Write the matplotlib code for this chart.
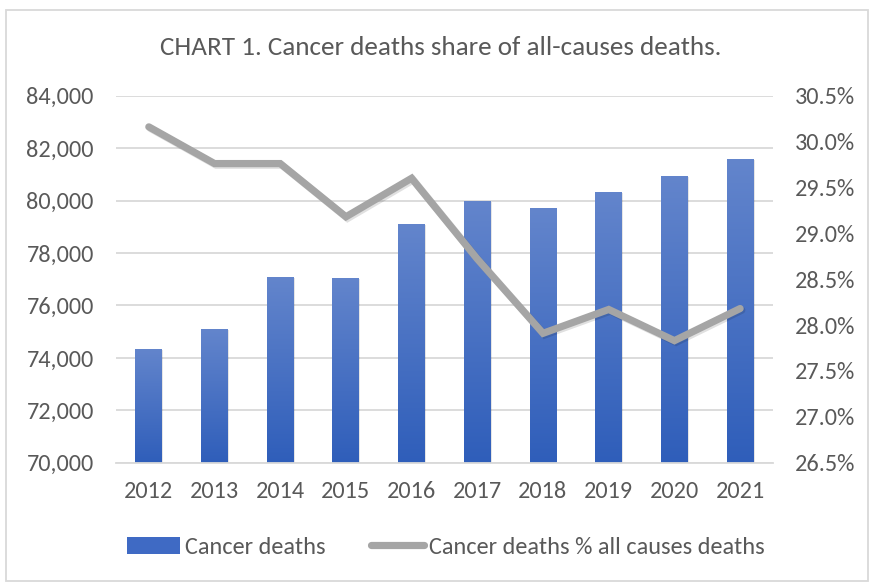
import numpy as np
import matplotlib
matplotlib.use("Agg")
import matplotlib.pyplot as plt
from matplotlib.colors import LinearSegmentedColormap
from matplotlib.patches import Rectangle
from matplotlib.lines import Line2D
import matplotlib.patheffects as pe
from matplotlib.ticker import FuncFormatter, MultipleLocator

plt.rcParams['font.family'] = ['Carlito', 'Lato', 'DejaVu Sans']

years = ["2012", "2013", "2014", "2015", "2016", "2017", "2018", "2019", "2020", "2021"]
cancer_deaths = [74350, 75090, 77090, 77060, 79100, 80000, 79700, 80340, 80950, 81590]
pct_all_causes = [30.16, 29.76, 29.76, 29.18, 29.60, 28.72, 27.91, 28.17, 27.83, 28.18]

title = "CHART 1. Cancer deaths share of all-causes deaths."
bar_label = "Cancer deaths"
line_label = "Cancer deaths % all causes deaths"

text_color = "#595959"
grid_color = "#D9D9D9"
line_color = "#A5A5A5"
bar_top = "#6385CC"
bar_bottom = "#2F5EBA"

fig = plt.figure(figsize=(8.74, 5.82), dpi=100)
ax = fig.add_axes([0.1327, 0.2050, 0.7517, 0.6306])
ax2 = ax.twinx()

x = np.arange(len(years))
width = 0.41
bars = ax.bar(x, cancer_deaths, width=width, color="none", zorder=2)

cmap = LinearSegmentedColormap.from_list("grad", [bar_bottom, bar_top])
grad = np.linspace(0, 1, 256).reshape(-1, 1)
for b in bars:
    x0, y0 = b.get_x(), 70000
    x1, y1 = x0 + b.get_width(), b.get_height()
    sh = Rectangle((x0 + 0.015, y0), b.get_width(), y1 - y0 - 40, facecolor="black", alpha=0.10,
                   edgecolor="none", zorder=1.5)
    ax.add_patch(sh)
    im = ax.imshow(grad, extent=[x0, x1, y0, y1], origin="lower", aspect="auto",
                   cmap=cmap, zorder=2, interpolation="bilinear")
    im.set_clip_path(b)

ax.set_xlim(-0.5, len(years) - 0.5)
ax.set_ylim(70000, 84000)
ax.yaxis.set_major_locator(MultipleLocator(2000))
ax.yaxis.set_major_formatter(FuncFormatter(lambda v, p: f"{int(v):,}"))
ax.set_xticks(x)
ax.set_xticklabels(years)
ax.grid(axis="y", color=grid_color, linewidth=1.3, zorder=0)
ax.set_axisbelow(True)
for s in ["top", "left", "right"]:
    ax.spines[s].set_visible(False)
ax.spines["bottom"].set_color(grid_color)
ax.spines["bottom"].set_linewidth(1.3)
ax.tick_params(axis="both", length=0, colors=text_color, labelsize=17.5)
ax.tick_params(axis="y", pad=16)
ax.tick_params(axis="x", pad=13)

ax2.plot(x, pct_all_causes, color=line_color, linewidth=5.2, solid_capstyle="round",
         solid_joinstyle="miter", zorder=3,
         path_effects=[pe.SimpleLineShadow(offset=(1.2, -1.2), alpha=0.12, shadow_color="black"),
                       pe.Normal()])
ax2.set_ylim(26.5, 30.5)
ax2.yaxis.set_major_locator(MultipleLocator(0.5))
ax2.yaxis.set_major_formatter(FuncFormatter(lambda v, p: f"{v:.1f}%"))
for s in ["top", "left", "right", "bottom"]:
    ax2.spines[s].set_visible(False)
ax2.tick_params(axis="y", length=0, colors=text_color, labelsize=17.5, pad=16)

fig.text(0.504, 0.919, title, ha="center", va="center", fontsize=19.5, color=text_color)

handles = [Rectangle((0, 0), 1, 1, facecolor="#3F6AC4", edgecolor="none"),
           Line2D([0], [0], color=line_color, linewidth=5.2, solid_capstyle="round")]
leg = fig.legend(handles, [bar_label, line_label], loc="center", bbox_to_anchor=(0.510, 0.060),
                 ncol=2, frameon=False, fontsize=17.5, handlelength=2.2, handletextpad=0.2,
                 columnspacing=1.85, labelcolor=text_color)

border = Rectangle((6 / 874, 1 / 582), 862 / 874, 571 / 582, transform=fig.transFigure,
                   facecolor="none", edgecolor="#D9D9D9", linewidth=1.3)
fig.patches.append(border)

fig.savefig("out.png", dpi=100)
